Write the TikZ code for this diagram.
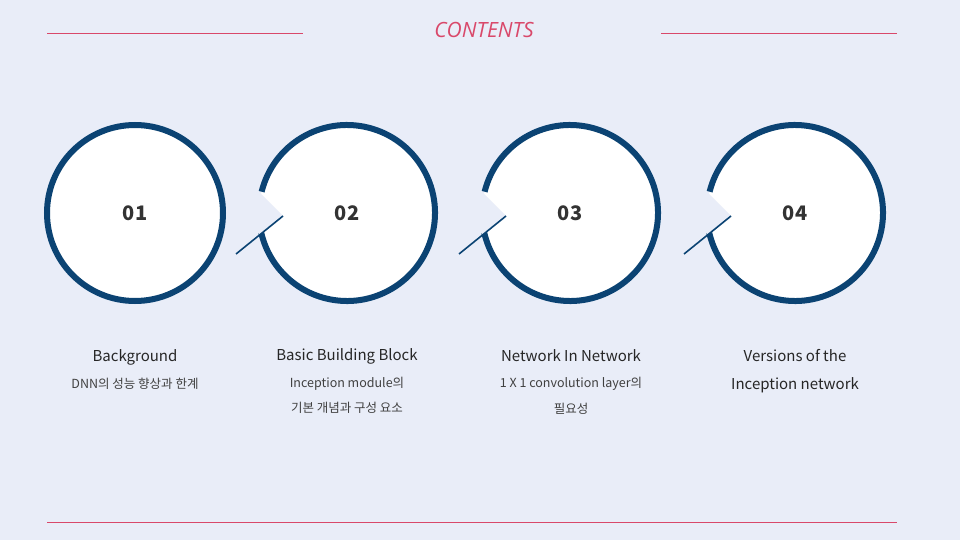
\documentclass[tikz,border=0pt]{standalone}
\usepackage{fontspec}
\setmainfont{Noto Sans CJK KR}
\newfontfamily\ttlfont{Open Sans}
\definecolor{bg}{HTML}{E9EDF8}
\definecolor{ring}{HTML}{0B4373}
\definecolor{rl}{HTML}{D9486A}
\definecolor{tx}{HTML}{333333}
\begin{document}
\begin{tikzpicture}[x=1pt,y=-1pt,
  rline/.style={draw=rl,line width=0.8pt},
  num/.style={font=\bfseries\fontsize{20}{22}\selectfont,text=tx},
  ttl/.style={font=\fontsize{15}{16}\selectfont,text=black!85},
  sub/.style={font=\fontsize{12.5}{14}\selectfont,text=black!75}]
\fill[bg] (0,0) rectangle (960,540);
\useasboundingbox (0,0) rectangle (960,540);
\draw[rline] (47,33) -- (303,33);
\draw[rline] (661,33) -- (897,33);
\draw[rline] (47,522) -- (897,522);
\node[font=\ttlfont\itshape\fontsize{21}{24}\selectfont,text=rl] (title) at (484,30) {CONTENTS};
% circle 1
\fill[white] (135,213) circle (88);
\draw[ring,line width=6pt] (135,213) circle (88);
\node[num] (n1) at (135,213) {01};
% notched circles
\foreach \cx/\lab in {347/02,570/03,795/04}{
  \fill[white] (\cx,213) circle (88);
  \draw[ring,line width=6pt] ([shift={(194:88)}]\cx,213) arc[start angle=194,end angle=527,radius=88];
  \fill[bg] (\cx-89,191) -- (\cx-64,216) -- (\cx-88,235.5) -- cycle;
  \draw[ring,line width=1.6pt] (\cx-64,216) -- (\cx-111,254);
  \node[num] at (\cx,213) {\lab};
}
\node[ttl] (t1) at (135,357) {Background};
\node[sub] (s1) at (135,384) {DNN의 성능 향상과 한계};
\node[ttl] (t2) at (347,356) {Basic Building Block};
\node[sub] (s2a) at (347,384) {Inception module의};
\node[sub] (s2b) at (347,408) {기본 개념과 구성 요소};
\node[ttl] (t3) at (571,356) {Network In Network};
\node[sub] (s3a) at (571,384) {1 X 1 convolution layer의};
\node[sub] (s3b) at (571,409) {필요성};
\node[ttl] (t4) at (795,356) {Versions of the};
\node[ttl] (t4b) at (795,385) {Inception network};
\end{tikzpicture}
\end{document}
